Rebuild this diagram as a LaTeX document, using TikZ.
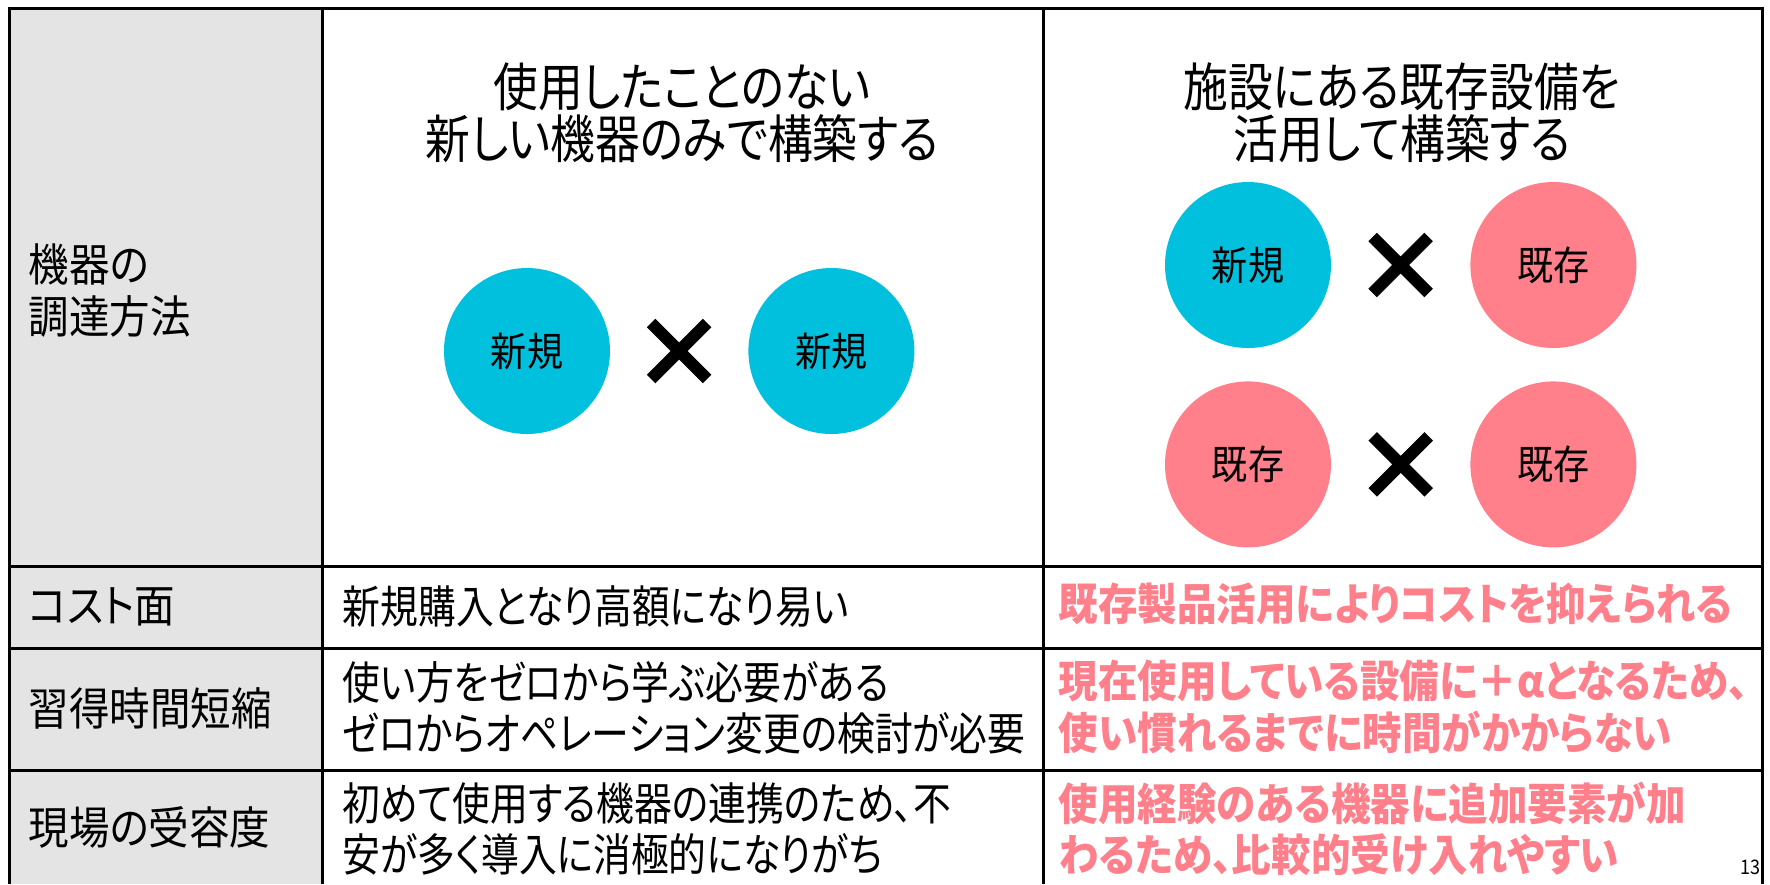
\documentclass[tikz,border=0pt]{standalone}
\usepackage{fontspec}
\usepackage{tikz}
\usetikzlibrary{positioning,calc,shapes.misc}

\newfontfamily\jp[FakeStretch=0.9,RawFeature={+palt}]{Noto Sans CJK JP}
\newfontfamily\jpn[FakeStretch=0.84,RawFeature={+palt}]{Noto Sans CJK JP}
\newfontfamily\jph[FakeStretch=0.86,RawFeature={+palt}]{Noto Sans CJK JP}
\newfontfamily\jpb[FakeStretch=0.9,RawFeature={+palt}]{Noto Sans CJK JP}

\definecolor{newcyan}{HTML}{00C0DE}
\definecolor{oldpink}{HTML}{FF7F8B}
\definecolor{headgray}{HTML}{E4E4E4}

\tikzset{
  rule/.style={line width=0.3mm, draw=black},
  cell/.style={anchor=west, inner sep=0, align=left, font=\jp\fontsize{12.8}{14.8}\selectfont},
  plain/.style={cell, font=\jpn\fontsize{12.8}{14.6}\selectfont},
  hit/.style={cell, text=oldpink, font=\jpb\bfseries\fontsize{12.5}{14.6}\selectfont},
  head/.style={inner sep=0, align=center, font=\jph\fontsize{14.8}{14.8}\selectfont},
  newdev/.style={circle, fill=newcyan, minimum size=16.6mm, inner sep=0, font=\jp\fontsize{11.4}{13}\selectfont},
  olddev/.style={newdev, fill=oldpink},
  crossmk/.style={cross out, draw=black, line width=1.2mm, minimum size=4.4mm, inner sep=0}
}

\begin{document}
\begin{tikzpicture}[x=0.1mm,y=-0.1mm]

  \useasboundingbox (0,0) rectangle (1770,884);

  \fill[headgray] (9,8) rectangle (322,884);
  \draw[rule] (9,884) -- (9,8) -- (1762,8) -- (1762,884);
  \draw[rule] (322,8) -- (322,884);
  \draw[rule] (1043,8) -- (1043,884);
  \draw[rule] (9,566) -- (1762,566);
  \draw[rule] (9,648) -- (1762,648);
  \draw[rule] (9,770) -- (1762,770);

  \node[cell] (k1) at (28,291) {機器の\\調達方法};
  \node[cell] (k2) at (28,607) {コスト面};
  \node[cell] (k3) at (28,708) {習得時間短縮};
  \node[cell] (k4) at (28,827) {現場の受容度};

  \node[head] (lhead) at (682,113) {使用したことのない\\新しい機器のみで構築する};
  \node[head] (rhead) at (1402,113) {施設にある既存設備を\\活用して構築する};

  \node[newdev] (l1) at (527,351) {新規};
  \node[newdev, right=13.7mm of l1] (l2) {新規};
  \node[crossmk] (lx) at ($(l1)!0.5!(l2)$) {};

  \node[newdev] (r1) at (1248,265) {新規};
  \node[olddev, right=13.8mm of r1] (r2) {既存};
  \node[olddev, below=3.2mm of r1] (r3) {既存};
  \node[olddev, right=13.8mm of r3] (r4) {既存};
  \node[crossmk] (rx1) at ($(r1)!0.5!(r2)$) {};
  \node[crossmk] (rx2) at ($(r3)!0.5!(r4)$) {};

  \node[plain] (c2) at (342,606) {新規購入となり高額になり易い};
  \node[plain] (c3) at (342,708) {使い方をゼロから学ぶ必要がある\\ゼロからオペレーション変更の検討が必要};
  \node[plain] (c4) at (342,829) {初めて使用する機器の連携のため、不\\安が多く導入に消極的になりがち};

  \node[hit] (h2) at (1058,604) {既存製品活用によりコストを抑えられる};
  \node[hit] (h3) at (1058,707) {現在使用している設備に＋αとなるため、\\使い慣れるまでに時間がかからない};
  \node[hit] (h4) at (1058,829) {使用経験のある機器に追加要素が加\\わるため、比較的受け入れやすい};

  \node[anchor=east, inner sep=0, font=\jp\fontsize{5.7}{6}\selectfont] (pg) at (1761,867) {13};

\end{tikzpicture}
\end{document}
